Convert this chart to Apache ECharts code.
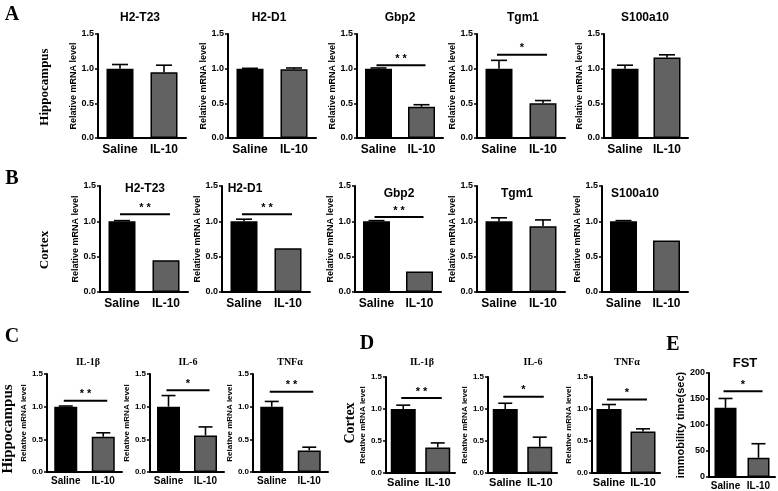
<!DOCTYPE html>
<html>
<head>
<meta charset="utf-8">
<script src="https://cdn.jsdelivr.net/npm/echarts@6/dist/echarts.min.js"></script>
<style>
  html, body { margin: 0; padding: 0; background: #fff; }
  #main { width: 778px; height: 491px; }
</style>
</head>
<body>
<div id="main"></div>
<script>
// groups on every x axis
var groups = ['Saline', 'IL-10'];

// rows A / B : genes
var genes = ['H2-T23', 'H2-D1', 'Gbp2', 'Tgm1', 'S100a10'];
var hipMean = [[1.0, 0.95], [1.0, 0.99], [1.0, 0.45], [1.0, 0.50], [1.0, 1.16]];
var hipErr = [[0.06, 0.10], [0.005, 0.02], [0.01, 0.03], [0.12, 0.04], [0.05, 0.04]];
var hipSig = [null, null, ['**', 1.05], ['*', 1.2], null];
var ctxMean = [[1.0, 0.45], [1.0, 0.62], [1.0, 0.29], [1.0, 0.93], [1.0, 0.73]];
var ctxErr = [[0.01, 0], [0.03, 0], [0.01, 0], [0.05, 0.09], [0.01, 0]];
var ctxSig = [['**', 1.1], ['**', 1.1], ['**', 1.06], null, null];

// rows C / D : cytokines
var cytokines = ['IL-1β', 'IL-6', 'TNFα'];
var cytHipMean = [[1.0, 0.54], [1.0, 0.56], [1.0, 0.33]];
var cytHipErr = [[0.01, 0.06], [0.17, 0.13], [0.08, 0.05]];
var cytHipSig = [['**', 1.09], ['*', 1.25], ['**', 1.23]];
var cytCtxMean = [[1.0, 0.40], [1.0, 0.41], [1.0, 0.65]];
var cytCtxErr = [[0.06, 0.07], [0.09, 0.15], [0.07, 0.04]];
var cytCtxSig = [['**', 1.17], ['*', 1.19], ['*', 1.15]];

// E : forced swim test
var fstMean = [133, 37];
var fstErr = [18, 27];
var fstSig = ['*', 165];

var mrnaTicks = [0, 0.5, 1.0, 1.5];
var fstTicks = [0, 50, 100, 150, 200];

// ---- layout ----
var SANS = '"Liberation Sans", Arial, sans-serif';
var SERIF = '"Liberation Serif", "Times New Roman", serif';

var gridsA = [[98, 34, 88, 104], [228, 34, 88, 104], [357, 34, 86, 104], [477, 34, 88, 104], [604, 34, 84, 104]];
var titlesA = [[140, 18], [269, 18], [400, 18], [523, 18], [645, 18]];
var gridsB = [[100, 186, 88, 106], [222, 186, 88, 106], [355, 186, 86, 106], [477, 186, 88, 106], [602, 186, 86, 106]];
var titlesB = [[145, 189], [245, 189], [399, 194], [517, 194], [635, 194]];
var gridsC = [[47, 374, 75, 98], [150, 374, 74, 98], [253, 374, 75, 98]];
var titlesC = [[88, 362], [188, 362], [290, 362]];
var gridsD = [[386, 377, 69, 96], [488, 377, 69, 96], [592, 377, 68, 96]];
var titlesD = [[422, 362], [533, 362], [627, 362]];
var gridE = [709, 373, 66, 104];

var styleAB = { title: 'bold 12px ' + SANS, tick: 9, cat: 12, name: 9, nameGap: 19, barWidth: 27, cap: 8, catMargin: 6 };
var styleC = { title: 'bold 10px ' + SERIF, tick: 8, cat: 10, name: 8, nameGap: 15, barWidth: 23, cap: 7, catMargin: 4 };
var styleD = { title: 'bold 10px ' + SERIF, tick: 8, cat: 11, name: 8, nameGap: 15, barWidth: 25, cap: 7, catMargin: 4 };
var styleE = { title: 'bold 13px ' + SANS, tick: 9, cat: 10, name: 11, nameGap: 16, barWidth: 22, cap: 7, catMargin: 4 };

var option = { animation: false, grid: [], xAxis: [], yAxis: [], series: [], graphic: [] };

function errorBar(cap) {
  return function (params, api) {
    var i = api.value(0), v = api.value(1), e = api.value(2);
    if (!e) return null;
    var base = api.coord([i, v]);
    var top = api.coord([i, v + e]);
    return {
      type: 'group',
      children: [
        { type: 'line', shape: { x1: base[0], y1: base[1], x2: top[0], y2: top[1] }, style: { stroke: '#000', lineWidth: 1.6 } },
        { type: 'line', shape: { x1: top[0] - cap, y1: top[1], x2: top[0] + cap, y2: top[1] }, style: { stroke: '#000', lineWidth: 1.6 } }
      ]
    };
  };
}

function sigBar(label) {
  return function (params, api) {
    var y = api.value(1);
    var a = api.coord([0, y]), b = api.coord([1, y]);
    return {
      type: 'group',
      children: [
        { type: 'line', shape: { x1: a[0] - 2, y1: a[1], x2: b[0] + 4, y2: b[1] }, style: { stroke: '#000', lineWidth: 2 } },
        { type: 'text', x: (a[0] + b[0]) / 2 + 1, y: a[1] - 1,
          style: { text: label.split('').join(' '), font: 'bold 11px ' + SANS, textAlign: 'center', textVerticalAlign: 'bottom', fill: '#000' } }
      ]
    };
  };
}

function addPanel(rect, titlePos, title, means, errs, sig, ticks, yName, st) {
  var k = option.grid.length;
  option.grid.push({ left: rect[0], top: rect[1], width: rect[2], height: rect[3] });
  option.xAxis.push({
    type: 'category', gridIndex: k, data: groups,
    axisLine: { lineStyle: { color: '#000', width: 2 } },
    axisTick: { alignWithLabel: true, length: 4, lineStyle: { color: '#000', width: 1.5 } },
    axisLabel: { color: '#000', fontWeight: 'bold', fontFamily: SANS, fontSize: st.cat, margin: st.catMargin, interval: 0 }
  });
  var step = ticks[1] - ticks[0];
  option.yAxis.push({
    type: 'value', gridIndex: k, min: ticks[0], max: ticks[ticks.length - 1], interval: step,
    name: yName, nameLocation: 'middle', nameGap: st.nameGap, nameRotate: 90,
    nameTextStyle: { color: '#000', fontWeight: 'bold', fontFamily: SANS, fontSize: st.name },
    axisLine: { show: true, lineStyle: { color: '#000', width: 2 } },
    axisTick: { show: true, length: 3, lineStyle: { color: '#000', width: 1.5 } },
    splitLine: { show: false },
    axisLabel: {
      color: '#000', fontWeight: 'bold', fontFamily: SANS, fontSize: st.tick, margin: 4,
      formatter: function (v) { return step < 1 ? v.toFixed(1) : String(v); }
    }
  });
  option.series.push({
    type: 'bar', xAxisIndex: k, yAxisIndex: k, barWidth: st.barWidth,
    data: means.map(function (v, i) {
      return { value: v, itemStyle: { color: i === 0 ? '#000' : '#626262', borderColor: '#000', borderWidth: 1.5 } };
    })
  });
  option.series.push({
    type: 'custom', xAxisIndex: k, yAxisIndex: k, z: 5,
    renderItem: errorBar(st.cap),
    data: means.map(function (v, i) { return [i, v, errs[i]]; })
  });
  if (sig) {
    option.series.push({
      type: 'custom', xAxisIndex: k, yAxisIndex: k, z: 5,
      renderItem: sigBar(sig[0]),
      data: [[0, sig[1]]]
    });
  }
  option.graphic.push({
    type: 'text', x: titlePos[0], y: titlePos[1],
    style: { text: title, font: st.title, textAlign: 'center', textVerticalAlign: 'middle', fill: '#000' }
  });
}

var yName = 'Relative mRNA level';
genes.forEach(function (g, i) {
  addPanel(gridsA[i], titlesA[i], g, hipMean[i], hipErr[i], hipSig[i], mrnaTicks, yName, styleAB);
  addPanel(gridsB[i], titlesB[i], g, ctxMean[i], ctxErr[i], ctxSig[i], mrnaTicks, yName, styleAB);
});
cytokines.forEach(function (c, i) {
  addPanel(gridsC[i], titlesC[i], c, cytHipMean[i], cytHipErr[i], cytHipSig[i], mrnaTicks, yName, styleC);
  addPanel(gridsD[i], titlesD[i], c, cytCtxMean[i], cytCtxErr[i], cytCtxSig[i], mrnaTicks, yName, styleD);
});
addPanel(gridE, [745, 363], 'FST', fstMean, fstErr, fstSig, fstTicks, 'immobility time(sec)', styleE);

// panel letters and region labels
function label(text, x, y, size, rot) {
  option.graphic.push({
    type: 'text', x: x, y: y, rotation: rot || 0,
    style: { text: text, font: 'bold ' + size + 'px ' + SERIF, textAlign: 'center', textVerticalAlign: 'middle', fill: '#000' }
  });
}
label('A', 12, 15, 20);
label('B', 12, 179, 20);
label('C', 12, 337, 20);
label('D', 367, 344, 20);
label('E', 673, 345, 20);
label('Hippocampus', 45, 87, 13, Math.PI / 2);
label('Cortex', 45, 250, 13, Math.PI / 2);
label('Hippocampus', 8, 429, 15, Math.PI / 2);
label('Cortex', 350, 423, 14, Math.PI / 2);

var myChart = echarts.init(document.getElementById('main'));
myChart.setOption(option);
</script>
</body>
</html>
